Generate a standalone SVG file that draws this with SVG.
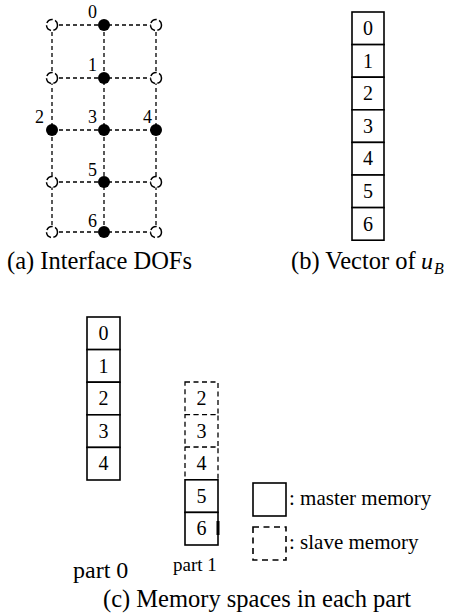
<svg xmlns="http://www.w3.org/2000/svg" width="451" height="615" viewBox="0 0 451 615" font-family="'Liberation Serif', 'Times New Roman', serif">
<style>
text{font-family:"Liberation Serif","Times New Roman",serif;fill:#000}
.g{stroke:#000;stroke-width:1.3;stroke-dasharray:4 3;fill:none}
.dot{fill:#000}
.open{fill:#fff;stroke:#000;stroke-width:1.5;stroke-dasharray:7 2.5}
.lab{font-size:18px;text-anchor:end}
.cell{fill:#fff;stroke:#000;stroke-width:1.6}
.dcell{fill:#fff;stroke:#000;stroke-width:1.3;stroke-dasharray:5 3.5}
.num{font-size:20px;text-anchor:middle}
.cap{font-size:24.5px}
.leg{font-size:21px}
</style>
<g id="connectors">
<line class="g" x1="52" y1="25" x2="156" y2="25"/>
<line class="g" x1="52" y1="78" x2="156" y2="78"/>
<line class="g" x1="52" y1="130" x2="156" y2="130"/>
<line class="g" x1="52" y1="182" x2="156" y2="182"/>
<line class="g" x1="52" y1="232" x2="156" y2="232"/>
<line class="g" x1="52" y1="25" x2="52" y2="232"/>
<line class="g" x1="104" y1="25" x2="104" y2="232"/>
<line class="g" x1="156" y1="25" x2="156" y2="232"/>
</g>
<g id="grid-open">
<circle class="open" cx="52" cy="25" r="5.5"/>
<circle class="open" cx="156" cy="25" r="5.5"/>
<circle class="open" cx="52" cy="78" r="5.5"/>
<circle class="open" cx="156" cy="78" r="5.5"/>
<circle class="open" cx="52" cy="182" r="5.5"/>
<circle class="open" cx="156" cy="182" r="5.5"/>
<circle class="open" cx="52" cy="232" r="5.5"/>
<circle class="open" cx="156" cy="232" r="5.5"/>
</g>
<g id="dof0"><circle class="dot" cx="104" cy="25" r="6"/><text class="lab" x="97" y="18">0</text></g>
<g id="dof1"><circle class="dot" cx="104" cy="78" r="6"/><text class="lab" x="97" y="71">1</text></g>
<g id="dof2"><circle class="dot" cx="52" cy="130" r="6"/><text class="lab" x="44" y="123">2</text></g>
<g id="dof3"><circle class="dot" cx="104" cy="130" r="6"/><text class="lab" x="97" y="123">3</text></g>
<g id="dof4"><circle class="dot" cx="156" cy="130" r="6"/><text class="lab" x="152" y="123">4</text></g>
<g id="dof5"><circle class="dot" cx="104" cy="182" r="6"/><text class="lab" x="97" y="176">5</text></g>
<g id="dof6"><circle class="dot" cx="104" cy="232" r="6"/><text class="lab" x="97" y="227">6</text></g>
<text class="cap" x="7" y="269">(a) Interface DOFs</text>

<g id="vector-b">
<rect class="cell" x="352" y="12" width="32" height="32.6"/><text class="num" x="368" y="35">0</text>
<rect class="cell" x="352" y="44.6" width="32" height="32.6"/><text class="num" x="368" y="67.6">1</text>
<rect class="cell" x="352" y="77.2" width="32" height="32.6"/><text class="num" x="368" y="100.2">2</text>
<rect class="cell" x="352" y="109.8" width="32" height="32.6"/><text class="num" x="368" y="132.8">3</text>
<rect class="cell" x="352" y="142.4" width="32" height="32.6"/><text class="num" x="368" y="165.4">4</text>
<rect class="cell" x="352" y="175" width="32" height="32.6"/><text class="num" x="368" y="198">5</text>
<rect class="cell" x="352" y="207.6" width="32" height="32.6"/><text class="num" x="368" y="230.6">6</text>
</g>
<text class="cap" x="291" y="269">(b) Vector of</text>
<text x="421" y="269" font-size="24px" font-style="italic">u</text>
<text x="434" y="274" font-size="16px" font-style="italic">B</text>

<g id="part0">
<rect class="cell" x="87" y="317" width="33" height="32.6"/><text class="num" x="103.5" y="340">0</text>
<rect class="cell" x="87" y="349.6" width="33" height="32.6"/><text class="num" x="103.5" y="372.6">1</text>
<rect class="cell" x="87" y="382.2" width="33" height="32.6"/><text class="num" x="103.5" y="405.2">2</text>
<rect class="cell" x="87" y="414.8" width="33" height="32.6"/><text class="num" x="103.5" y="437.8">3</text>
<rect class="cell" x="87" y="447.4" width="33" height="32.6"/><text class="num" x="103.5" y="470.4">4</text>
<text x="73" y="578" font-size="24px">part 0</text>
</g>
<g id="part1">
<rect class="dcell" x="185" y="382" width="33" height="32.6"/><text class="num" x="201.5" y="405">2</text>
<rect class="dcell" x="185" y="414.6" width="33" height="32.6"/><text class="num" x="201.5" y="437.6">3</text>
<rect class="dcell" x="185" y="447.2" width="33" height="32.6"/><text class="num" x="201.5" y="470.2">4</text>
<rect class="cell" x="185" y="479.8" width="33" height="32.6"/><text class="num" x="201.5" y="502.8">5</text>
<rect class="cell" x="185" y="512.4" width="33" height="32.6"/><text class="num" x="201.5" y="535.4">6</text>
<line x1="218" y1="521" x2="218" y2="535" stroke="#000" stroke-width="3"/>
<text x="173" y="571" font-size="19px">part 1</text>
</g>
<g id="legend-master">
<rect x="253" y="483" width="33" height="33" fill="#fff" stroke="#000" stroke-width="1.6"/>
<text class="leg" x="289" y="505">: master memory</text>
</g>
<g id="legend-slave">
<rect x="253" y="527" width="33" height="33" fill="none" stroke="#000" stroke-width="1.6" stroke-dasharray="6 4.5"/>
<text class="leg" x="289" y="549">: slave memory</text>
</g>
<text class="cap" x="103" y="607" font-size="25px">(c) Memory spaces in each part</text>
</svg>
